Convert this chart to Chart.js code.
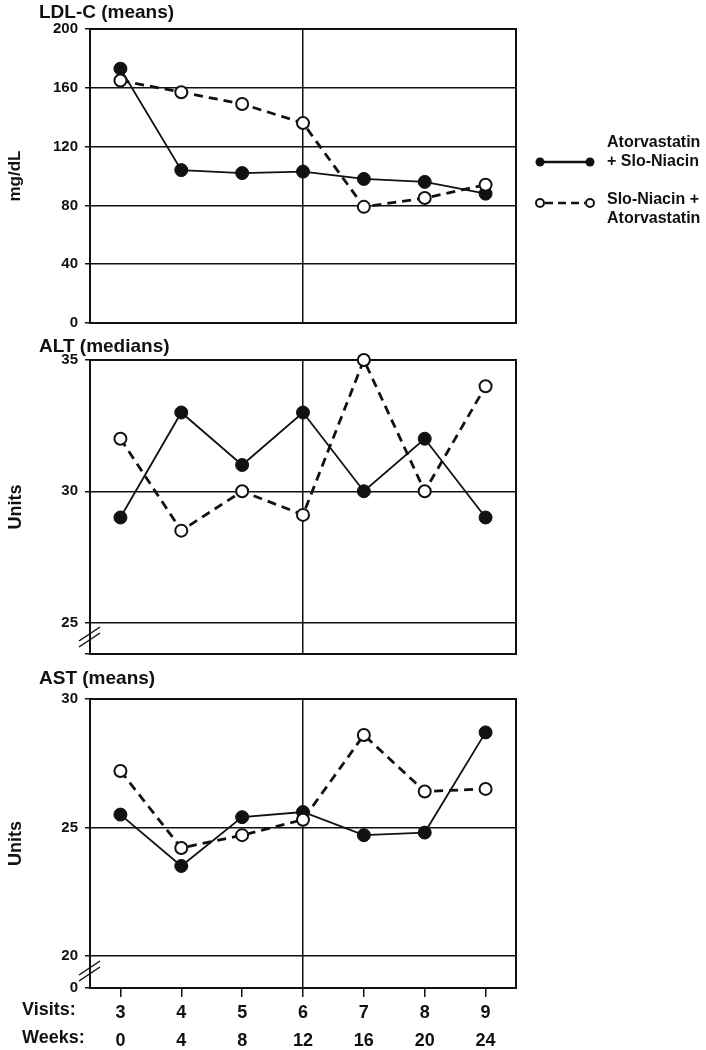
<!DOCTYPE html>
<html>
<head>
<meta charset="utf-8">
<script src="https://cdn.jsdelivr.net/npm/chart.js@4.4.1/dist/chart.umd.min.js"></script>
<style>
  body { margin: 0; background: #fff; }
  #wrap { position: relative; width: 706px; height: 1050px; overflow: hidden; }
  canvas { position: absolute; left: 0; }
</style>
</head>
<body>
<div id="wrap">
  <canvas id="ldlChart" width="706" height="340" style="top:0px"></canvas>
  <canvas id="altChart" width="706" height="340" style="top:330px"></canvas>
  <canvas id="astChart" width="706" height="390" style="top:660px"></canvas>
</div>
<script>
// x categories
const visits = ['3', '4', '5', '6', '7', '8', '9'];
const weeks = ['0', '4', '8', '12', '16', '20', '24'];

// LDL-C means, mg/dL
const ldlAtorNiacin = [173, 104, 102, 103, 98, 96, 88];
const ldlNiacinAtor = [165, 157, 149, 136, 79, 85, 94];
// ALT medians, units
const altAtorNiacin = [29, 33, 31, 33, 30, 32, 29];
const altNiacinAtor = [32, 28.5, 30, 29.1, 35, 30, 34];
// AST means, units
const astAtorNiacin = [25.5, 23.5, 25.4, 25.6, 24.7, 24.8, 28.7];
const astNiacinAtor = [27.2, 24.2, 24.7, 25.3, 28.6, 26.4, 26.5];

// y ticks
const ldlTicks = [0, 40, 80, 120, 160, 200];
const altTicks = [25, 30, 35];
const astTicks = [20, 25, 30];
const altBreakMin = 23.8;   // broken axis, bottom of panel
const astBreakMin = 18.75;

const FONT = "'Liberation Sans', Arial, Helvetica, sans-serif";
const INK = '#111';

const decor = {
    id: 'decor',
    beforeDatasetsDraw(chart, args, o) {
        const a = chart.chartArea;
        const ctx = chart.ctx;
        ctx.save();
        ctx.strokeStyle = INK;
        ctx.lineWidth = 2;
        ctx.strokeRect(a.left, a.top, a.right - a.left, a.bottom - a.top);
        if (o.brk) {
            // axis break marks
            ctx.lineWidth = 1.5;
            const cy = a.bottom - 17;
            for (const dy of [-3, 3]) {
                ctx.beginPath();
                ctx.moveTo(a.left - 11, cy + dy + 7);
                ctx.lineTo(a.left + 10, cy + dy - 7);
                ctx.stroke();
            }
        }
        ctx.restore();
    },
    afterDraw(chart, args, o) {
        const a = chart.chartArea;
        const ctx = chart.ctx;
        ctx.save();
        ctx.fillStyle = INK;
        ctx.textAlign = 'left';
        ctx.textBaseline = 'alphabetic';
        ctx.font = 'bold 19px ' + FONT;
        ctx.fillText(o.title, 39, a.top + o.titleDy);

        if (o.xNames) {
            ctx.font = 'bold 18px ' + FONT;
            ctx.fillText('Visits:', 22, o.xNames[0]);
            ctx.fillText('Weeks:', 22, o.xNames[1]);
        }

        if (o.legend) {
            const x0 = 540, x1 = 590, tx = 607;
            ctx.strokeStyle = INK;
            // filled series
            ctx.lineWidth = 2.5;
            ctx.setLineDash([]);
            ctx.beginPath(); ctx.moveTo(x0, 162); ctx.lineTo(x1, 162); ctx.stroke();
            for (const x of [x0, x1]) {
                ctx.beginPath(); ctx.arc(x, 162, 4.5, 0, Math.PI * 2); ctx.fill();
            }
            // open series
            ctx.setLineDash([8, 5]);
            ctx.beginPath(); ctx.moveTo(x0 + 5, 203); ctx.lineTo(x1 - 5, 203); ctx.stroke();
            ctx.setLineDash([]);
            ctx.lineWidth = 2;
            for (const x of [x0, x1]) {
                ctx.beginPath(); ctx.arc(x, 203, 4, 0, Math.PI * 2);
                ctx.fillStyle = '#fff'; ctx.fill(); ctx.stroke();
            }
            ctx.fillStyle = INK;
            ctx.font = 'bold 16px ' + FONT;
            ctx.fillText('Atorvastatin', tx, 147);
            ctx.fillText('+ Slo-Niacin', tx, 166);
            ctx.fillText('Slo-Niacin +', tx, 204);
            ctx.fillText('Atorvastatin', tx, 223);
        }
        ctx.restore();
    }
};

function makePanel(id, p) {
    const ctx = document.getElementById(id).getContext('2d');
    const labels = p.showX ? visits.map((v, i) => [v, weeks[i]]) : visits;
    const tickList = p.min < p.ticks[0] ? [p.min].concat(p.ticks) : p.ticks;

    return new Chart(ctx, {
        type: 'line',
        data: {
            labels: labels,
            datasets: [
                {
                    label: 'Slo-Niacin + Atorvastatin',
                    data: p.niacinAtor,
                    order: 0,
                    borderColor: INK,
                    borderWidth: 2.8,
                    borderDash: [9, 6],
                    pointRadius: 6,
                    pointBackgroundColor: '#fff',
                    pointBorderColor: INK,
                    pointBorderWidth: 2,
                    clip: false
                },
                {
                    label: 'Atorvastatin + Slo-Niacin',
                    data: p.atorNiacin,
                    order: 1,
                    borderColor: INK,
                    borderWidth: 1.8,
                    pointRadius: 6.5,
                    pointBackgroundColor: INK,
                    pointBorderColor: INK,
                    pointBorderWidth: 1,
                    clip: false
                }
            ]
        },
        options: {
            responsive: false,
            animation: false,
            events: [],
            layout: { padding: { top: p.padTop, right: 190, bottom: p.padBottom, left: 0 } },
            plugins: {
                legend: { display: false },
                tooltip: { enabled: false },
                decor: { title: p.title, titleDy: p.titleDy, brk: p.brk, legend: p.legend, xNames: p.xNames }
            },
            scales: {
                x: {
                    type: 'category',
                    offset: true,
                    border: { display: true, color: INK, width: 2 },
                    grid: {
                        color: (c) => c.index === 3 ? INK : 'rgba(0,0,0,0)',
                        tickColor: INK,
                        lineWidth: 1.5,
                        drawTicks: p.showX,
                        tickLength: 9
                    },
                    ticks: {
                        display: p.showX,
                        color: INK,
                        padding: 2,
                        font: { family: FONT, size: 18, weight: 'bold', lineHeight: 1.55 }
                    },
                    afterFit: (s) => { s.height = p.showX ? 62 : 0; }
                },
                y: {
                    min: p.min,
                    max: p.max,
                    border: { display: true, color: INK, width: 2 },
                    grid: { color: INK, tickColor: INK, lineWidth: 1.5, tickLength: 5 },
                    afterBuildTicks: (s) => { s.ticks = tickList.map(v => ({ value: v })); },
                    ticks: {
                        color: INK,
                        padding: 7,
                        font: { family: FONT, size: 15, weight: 'bold' },
                        callback: (v) => v < p.ticks[0] ? p.minLabel : v
                    },
                    title: {
                        display: true,
                        text: p.yTitle,
                        color: INK,
                        padding: { top: 5, bottom: 0 },
                        font: { family: FONT, size: p.yTitleSize, weight: 'bold' }
                    },
                    afterFit: (s) => { s.width = 90; }
                }
            }
        },
        plugins: [decor]
    });
}

makePanel('ldlChart', {
    title: 'LDL-C (means)', titleDy: -11,
    yTitle: 'mg/dL', yTitleSize: 17,
    atorNiacin: ldlAtorNiacin, niacinAtor: ldlNiacinAtor,
    ticks: ldlTicks, min: 0, max: 200, minLabel: '',
    padTop: 29, padBottom: 17, showX: false, brk: false, legend: true
});

makePanel('altChart', {
    title: 'ALT (medians)', titleDy: -8,
    yTitle: 'Units', yTitleSize: 18,
    atorNiacin: altAtorNiacin, niacinAtor: altNiacinAtor,
    ticks: altTicks, min: altBreakMin, max: 35, minLabel: '',
    padTop: 30, padBottom: 13, showX: false, brk: true, legend: false
});

makePanel('astChart', {
    title: 'AST (means)', titleDy: -15,
    yTitle: 'Units', yTitleSize: 18,
    atorNiacin: astAtorNiacin, niacinAtor: astNiacinAtor,
    ticks: astTicks, min: astBreakMin, max: 30, minLabel: '0',
    padTop: 39, padBottom: 0, showX: true, brk: true, legend: false,
    xNames: [355, 383]
});
</script>
</body>
</html>
